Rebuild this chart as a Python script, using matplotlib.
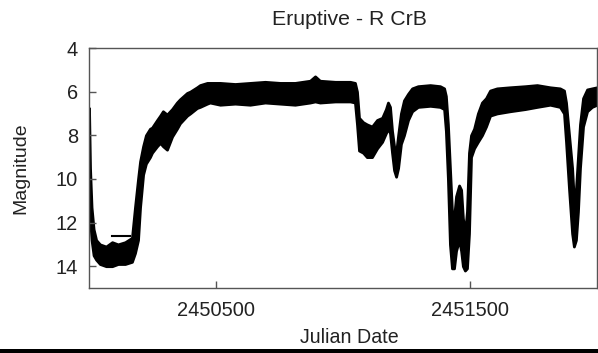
import matplotlib
matplotlib.use("Agg")
import matplotlib.pyplot as plt
from matplotlib.patches import Rectangle

# Light curve envelope of R CrB (JD - 2450000, magnitude)
jd_offset = [0, 4, 10, 18, 28, 43, 67, 91, 114, 142, 169, 181, 193, 201, 213, 224,
             240, 248, 268, 280, 291, 307, 327, 346, 358, 386, 398, 425, 437, 465,
             476, 516, 575, 634, 693, 752, 811, 870, 890, 909, 969, 1028, 1047, 1055,
             1063, 1079, 1094, 1114, 1134, 1154, 1169, 1177, 1185, 1193, 1201, 1209,
             1217, 1228, 1240, 1256, 1272, 1295, 1343, 1382, 1398, 1405, 1413, 1421,
             1429, 1437, 1445, 1457, 1465, 1472, 1480, 1488, 1496, 1504, 1516, 1531,
             1547, 1563, 1579, 1606, 1657, 1717, 1764, 1815, 1854, 1870, 1878, 1890,
             1902, 1909, 1917, 1925, 1933, 1945, 1961, 1980, 2000]
mag_bright = [6.75, 9.5, 11.3, 12.3, 12.8, 13.0, 13.1, 12.9, 13.0, 12.9, 12.7, 11.3,
              10.0, 9.2, 8.5, 8.0, 7.7, 7.65, 7.3, 7.1, 6.9, 7.05, 6.8, 6.5, 6.35,
              6.06, 6.0, 5.8, 5.7, 5.6, 5.6, 5.6, 5.65, 5.6, 5.55, 5.6, 5.6, 5.5,
              5.3, 5.5, 5.55, 5.55, 5.6, 6.0, 7.2, 7.4, 7.5, 7.6, 7.3, 7.2, 6.8, 6.5,
              6.7, 7.8, 8.5, 8.8, 8.0, 7.0, 6.4, 6.1, 5.85, 5.75, 5.7, 5.75, 5.85,
              6.2, 7.5, 9.5, 11.5, 11.8, 10.8, 10.3, 10.5, 11.8, 12.5, 11.5, 8.8, 8.0,
              7.7, 7.0, 6.5, 6.3, 5.95, 5.85, 5.8, 5.75, 5.7, 5.8, 5.85, 5.95, 6.5,
              8.0, 9.5, 11.0, 10.5, 9.0, 7.5, 6.3, 5.9, 5.85, 5.8]
mag_faint = [10.5, 11.8, 12.8, 13.5, 13.7, 13.9, 14.0, 14.0, 13.9, 13.9, 13.8, 13.4,
             12.8, 11.3, 9.8, 9.3, 9.0, 8.8, 8.5, 8.35, 8.5, 8.66, 8.06, 7.7, 7.45,
             7.1, 7.0, 6.75, 6.7, 6.55, 6.5, 6.6, 6.55, 6.6, 6.5, 6.55, 6.6, 6.5,
             6.45, 6.5, 6.45, 6.45, 6.5, 7.5, 8.7, 8.8, 9.0, 9.0, 8.6, 8.3, 7.9, 7.7,
             7.9, 8.8, 9.6, 9.9, 9.5, 8.4, 8.0, 7.3, 6.9, 6.7, 6.65, 6.7, 6.8, 7.8,
             10.0, 13.0, 14.1, 14.1, 13.3, 12.8, 13.3, 14.0, 14.2, 14.1, 12.5, 9.0,
             8.6, 8.3, 8.0, 7.6, 7.1, 7.0, 6.9, 6.8, 6.7, 6.6, 6.7, 7.0, 8.3, 10.5,
             12.5, 13.1, 12.8, 11.5, 9.5, 7.6, 6.9, 6.7, 6.6]
# short horizontal run of points near the first minimum
dash_jd_offset = [91, 161]
dash_mag = [12.63, 12.63]

jd_base = 2450000
jd = [jd_base + d for d in jd_offset]
dash_jd = [jd_base + d for d in dash_jd_offset]

x_ticks = [2450500, 2451500]
y_ticks = [4, 6, 8, 10, 12, 14]

plt.rcParams['font.family'] = ['Liberation Sans', 'DejaVu Sans']

fig = plt.figure(figsize=(5.98, 3.53), dpi=100)
ax = fig.add_axes([89/598, 1 - 288/353, (597 - 89)/598, (288 - 48)/353])

ax.fill_between(jd, mag_bright, mag_faint, facecolor='black', edgecolor='black',
                linewidth=2.0, joinstyle='round', antialiased=True)
ax.plot(dash_jd, dash_mag, '-', color='black', linewidth=1.5)

ax.set_xlim(2450000, 2452000)
ax.set_ylim(15, 4)
ax.set_xticks(x_ticks)
ax.set_xticklabels([str(t) for t in x_ticks])
ax.set_yticks(y_ticks)

for s in ax.spines.values():
    s.set_color('#555555')
    s.set_linewidth(1.0)

ax.tick_params(axis='both', direction='in', length=5, width=1, color='#555555',
               labelsize=14.4, labelcolor='#222222')
ax.tick_params(axis='x', pad=9)
ax.tick_params(axis='y', pad=8)

ax.set_title('Eruptive - R CrB', fontsize=15.3, color='#222222', pad=16.5)
ax.title.set_x(0.512)
ax.set_xlabel('Julian Date', fontsize=14.1, color='#222222', labelpad=6)
ax.xaxis.label.set_x(0.512)
ax.set_ylabel('Magnitude', fontsize=14, color='#222222', labelpad=19)

fig.patches.append(Rectangle((0, 0), 1, 4/353, transform=fig.transFigure,
                             facecolor='black', edgecolor='none'))

fig.savefig('out.png', dpi=100)
